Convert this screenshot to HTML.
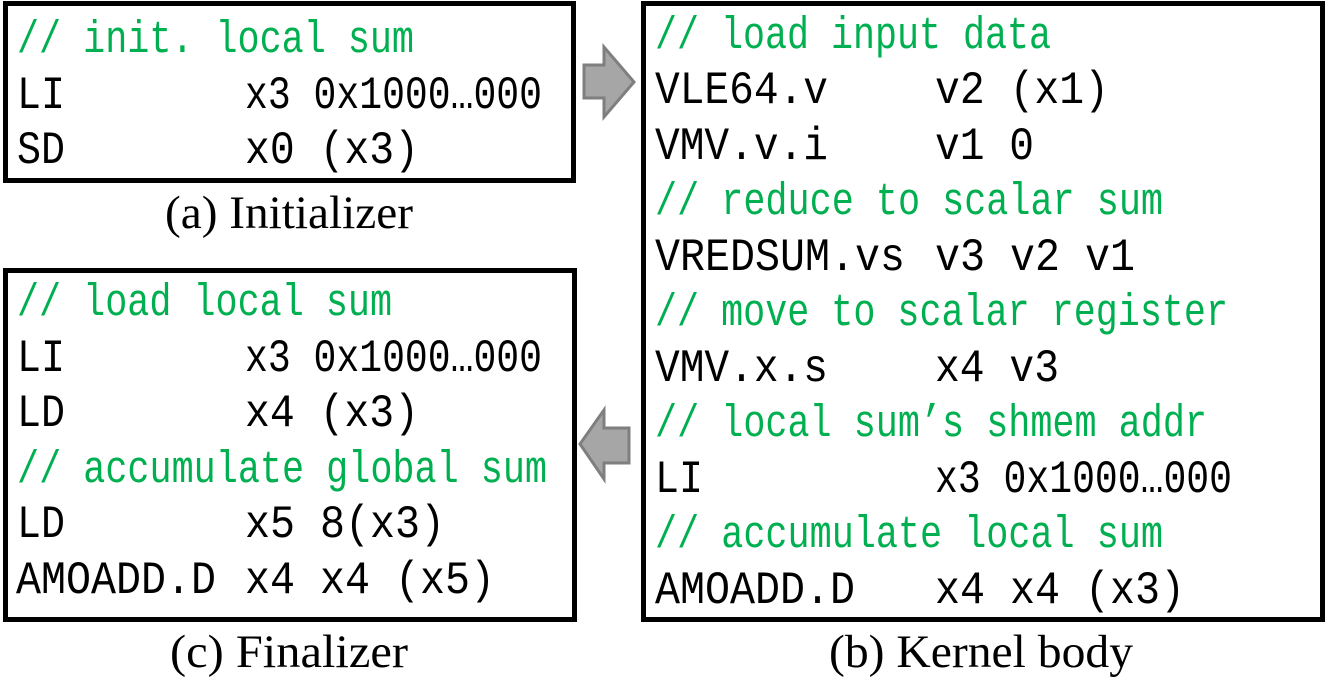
<!DOCTYPE html>
<html><head><meta charset="utf-8"><style>
html,body{margin:0;padding:0;background:#fff;}
svg{display:block;}
.c{font-family:"Liberation Mono",monospace;font-size:46px;fill:#000;}
.g{font-family:"Liberation Mono",monospace;font-size:45px;fill:#00b050;}
.l{font-family:"Liberation Serif",serif;font-size:47px;fill:#000;}
</style></head><body>
<svg width="1329" height="679" viewBox="0 0 1329 679" xmlns="http://www.w3.org/2000/svg">
<rect x="5.5" y="3.5" width="568" height="177" fill="#fff" stroke="#000" stroke-width="5"/>
<rect x="5.5" y="270.5" width="569" height="349" fill="#fff" stroke="#000" stroke-width="5"/>
<rect x="643.5" y="3.5" width="679" height="616" fill="#fff" stroke="#000" stroke-width="5"/>
<polygon points="584,65 604,65 604,47 634,82 604,117 604,98 584,98" fill="#a6a6a6" stroke="#7f7f7f" stroke-width="3"/>
<polygon points="629,428 604,428 604,410 580,444 604,479 604,463 629,463" fill="#a6a6a6" stroke="#7f7f7f" stroke-width="3"/>

<!-- box a -->
<text class="g" x="17" y="52" textLength="397" lengthAdjust="spacingAndGlyphs">// init. local sum</text>
<text class="c" x="17" y="108" textLength="48" lengthAdjust="spacingAndGlyphs">LI</text>
<text class="c" x="245" y="108" textLength="297" lengthAdjust="spacingAndGlyphs">x3 0x1000…000</text>
<text class="c" x="17" y="163" textLength="48" lengthAdjust="spacingAndGlyphs">SD</text>
<text class="c" x="245" y="163" textLength="174" lengthAdjust="spacingAndGlyphs">x0 (x3)</text>
<text class="l" x="165" y="228" textLength="248" lengthAdjust="spacingAndGlyphs">(a) Initializer</text>

<!-- box c -->
<text class="g" x="17" y="315" textLength="375" lengthAdjust="spacingAndGlyphs">// load local sum</text>
<text class="c" x="17" y="371" textLength="48" lengthAdjust="spacingAndGlyphs">LI</text>
<text class="c" x="245" y="371" textLength="297" lengthAdjust="spacingAndGlyphs">x3 0x1000…000</text>
<text class="c" x="17" y="426" textLength="48" lengthAdjust="spacingAndGlyphs">LD</text>
<text class="c" x="245" y="426" textLength="174" lengthAdjust="spacingAndGlyphs">x4 (x3)</text>
<text class="g" x="17" y="482" textLength="530" lengthAdjust="spacingAndGlyphs">// accumulate global sum</text>
<text class="c" x="17" y="537" textLength="48" lengthAdjust="spacingAndGlyphs">LD</text>
<text class="c" x="245" y="537" textLength="200" lengthAdjust="spacingAndGlyphs">x5 8(x3)</text>
<text class="c" x="16" y="593" textLength="200" lengthAdjust="spacingAndGlyphs">AMOADD.D</text>
<text class="c" x="245" y="593" textLength="250" lengthAdjust="spacingAndGlyphs">x4 x4 (x5)</text>
<text class="l" x="170" y="667" textLength="238" lengthAdjust="spacingAndGlyphs">(c) Finalizer</text>

<!-- box b -->
<text class="g" x="655" y="48" textLength="396" lengthAdjust="spacingAndGlyphs">// load input data</text>
<text class="c" x="655" y="103" textLength="173" lengthAdjust="spacingAndGlyphs">VLE64.v</text>
<text class="c" x="935" y="103" textLength="174" lengthAdjust="spacingAndGlyphs">v2 (x1)</text>
<text class="c" x="655" y="159" textLength="173" lengthAdjust="spacingAndGlyphs">VMV.v.i</text>
<text class="c" x="935" y="159" textLength="99" lengthAdjust="spacingAndGlyphs">v1 0</text>
<text class="g" x="655" y="214" textLength="508" lengthAdjust="spacingAndGlyphs">// reduce to scalar sum</text>
<text class="c" x="655" y="270" textLength="250" lengthAdjust="spacingAndGlyphs">VREDSUM.vs</text>
<text class="c" x="935" y="270" textLength="200" lengthAdjust="spacingAndGlyphs">v3 v2 v1</text>
<text class="g" x="655" y="325" textLength="573" lengthAdjust="spacingAndGlyphs">// move to scalar register</text>
<text class="c" x="655" y="381" textLength="173" lengthAdjust="spacingAndGlyphs">VMV.x.s</text>
<text class="c" x="935" y="381" textLength="124" lengthAdjust="spacingAndGlyphs">x4 v3</text>
<text class="g" x="655" y="436" textLength="552" lengthAdjust="spacingAndGlyphs">// local sum’s shmem addr</text>
<text class="c" x="655" y="492" textLength="48" lengthAdjust="spacingAndGlyphs">LI</text>
<text class="c" x="935" y="492" textLength="297" lengthAdjust="spacingAndGlyphs">x3 0x1000…000</text>
<text class="g" x="655" y="547" textLength="508" lengthAdjust="spacingAndGlyphs">// accumulate local sum</text>
<text class="c" x="655" y="603" textLength="200" lengthAdjust="spacingAndGlyphs">AMOADD.D</text>
<text class="c" x="935" y="603" textLength="250" lengthAdjust="spacingAndGlyphs">x4 x4 (x3)</text>
<text class="l" x="829" y="667" textLength="304" lengthAdjust="spacingAndGlyphs">(b) Kernel body</text>
</svg>
</body></html>
